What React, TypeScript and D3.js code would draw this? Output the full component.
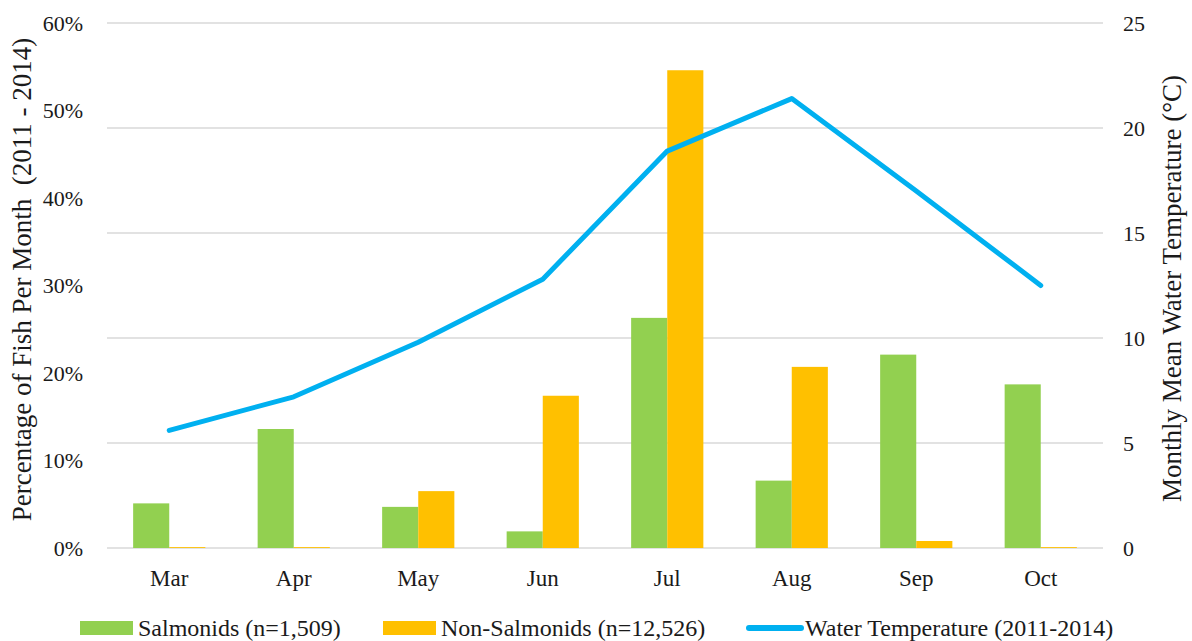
import { useEffect, useRef } from "react";
import * as d3 from "d3";

const months = ["Mar", "Apr", "May", "Jun", "Jul", "Aug", "Sep", "Oct"];
const salmonids = [5.1, 13.6, 4.7, 1.9, 26.3, 7.7, 22.1, 18.7];
const nonSalmonids = [0.1, 0.1, 6.5, 17.4, 54.6, 20.7, 0.8, 0.1];
const waterTemp = [5.6, 7.2, 9.8, 12.8, 18.9, 21.4, 17.0, 12.5];
const leftTicks = [0, 10, 20, 30, 40, 50, 60];
const rightTicks = [0, 5, 10, 15, 20, 25];

const W = 1192;
const H = 641;
const MARGIN = { top: 23, right: 89, bottom: 93, left: 107 };
const GREEN = "#92D050";
const ORANGE = "#FFC000";
const BLUE = "#00B0F0";
const TEXT = "#1a1a1a";
const FONT = "Times New Roman, Liberation Serif, DejaVu Serif, serif";

export default function App() {
  const svgRef = useRef<SVGSVGElement>(null);

  useEffect(() => {
    const svg = d3.select(svgRef.current);
    svg.selectAll("*").remove();

    svg.append("rect").attr("width", W).attr("height", H).attr("fill", "#fff");

    const plotW = W - MARGIN.left - MARGIN.right;
    const plotH = H - MARGIN.top - MARGIN.bottom;
    const g = svg.append("g").attr("transform", `translate(${MARGIN.left},${MARGIN.top})`);

    const x = d3.scaleBand().domain(months).range([0, plotW]).paddingInner(0).paddingOuter(0);
    const bw = x.bandwidth() * 0.29;
    const yL = d3.scaleLinear().domain([0, 60]).range([plotH, 0]);
    const yR = d3.scaleLinear().domain([0, 25]).range([plotH, 0]);

    // Gridlines (follow secondary axis)
    rightTicks.forEach((t) => {
      g.append("line")
        .attr("x1", 0)
        .attr("x2", plotW)
        .attr("y1", yR(t))
        .attr("y2", yR(t))
        .attr("stroke", "#D9D9D9")
        .attr("stroke-width", 1.5);
    });

    // Bars
    months.forEach((m, i) => {
      const cx = (x(m) ?? 0) + x.bandwidth() / 2;
      g.append("rect")
        .attr("x", cx - bw)
        .attr("y", yL(salmonids[i]))
        .attr("width", bw)
        .attr("height", plotH - yL(salmonids[i]))
        .attr("fill", GREEN);
      g.append("rect")
        .attr("x", cx)
        .attr("y", yL(nonSalmonids[i]))
        .attr("width", bw)
        .attr("height", plotH - yL(nonSalmonids[i]))
        .attr("fill", ORANGE);
    });

    // Temperature line
    const line = d3
      .line<number>()
      .x((_, i) => (x(months[i]) ?? 0) + x.bandwidth() / 2)
      .y((d) => yR(d));
    g.append("path")
      .datum(waterTemp)
      .attr("d", line)
      .attr("fill", "none")
      .attr("stroke", BLUE)
      .attr("stroke-width", 5)
      .attr("stroke-linecap", "round")
      .attr("stroke-linejoin", "round");

    // Left tick labels
    leftTicks.forEach((t) => {
      g.append("text")
        .attr("x", -24)
        .attr("y", yL(t))
        .attr("dy", "0.35em")
        .attr("text-anchor", "end")
        .attr("font-family", FONT)
        .attr("font-size", 22)
        .attr("fill", TEXT)
        .text(`${t}%`);
    });

    // Right tick labels
    rightTicks.forEach((t) => {
      g.append("text")
        .attr("x", plotW + 20)
        .attr("y", yR(t))
        .attr("dy", "0.35em")
        .attr("text-anchor", "start")
        .attr("font-family", FONT)
        .attr("font-size", 22)
        .attr("fill", TEXT)
        .text(t);
    });

    // Category labels
    months.forEach((m) => {
      g.append("text")
        .attr("x", (x(m) ?? 0) + x.bandwidth() / 2)
        .attr("y", plotH + 30)
        .attr("dy", "0.35em")
        .attr("text-anchor", "middle")
        .attr("font-family", FONT)
        .attr("font-size", 23)
        .attr("fill", TEXT)
        .text(m);
    });

    // Axis titles
    svg.append("text")
      .attr("transform", `translate(22,${MARGIN.top + plotH / 2 - 6}) rotate(-90)`)
      .attr("dy", "0.35em")
      .attr("text-anchor", "middle")
      .attr("font-family", FONT)
      .attr("font-size", 27)
      .attr("fill", TEXT)
      .attr("xml:space", "preserve")
      .text("Percentage of Fish Per Month  (2011 - 2014)");

    svg.append("text")
      .attr("transform", `translate(1172,${MARGIN.top + plotH / 2 + 3}) rotate(-90)`)
      .attr("dy", "0.35em")
      .attr("text-anchor", "middle")
      .attr("font-family", FONT)
      .attr("font-size", 27)
      .attr("fill", TEXT)
      .text("Monthly Mean Water Temperature (°C)");

    // Legend
    const legendY = 628;
    const items = [
      { label: "Salmonids (n=1,509)", color: GREEN, x: 80, type: "rect" },
      { label: "Non-Salmonids (n=12,526)", color: ORANGE, x: 383, type: "rect" },
      { label: "Water Temperature (2011-2014)", color: BLUE, x: 747, type: "line" },
    ];
    items.forEach((it) => {
      if (it.type === "rect") {
        svg.append("rect")
          .attr("x", it.x)
          .attr("y", legendY - 7)
          .attr("width", 53)
          .attr("height", 14)
          .attr("fill", it.color);
      } else {
        svg.append("line")
          .attr("x1", it.x + 2)
          .attr("x2", it.x + 54)
          .attr("y1", legendY)
          .attr("y2", legendY)
          .attr("stroke", it.color)
          .attr("stroke-width", 6)
          .attr("stroke-linecap", "round");
      }
      svg.append("text")
        .attr("x", it.x + 58)
        .attr("y", legendY)
        .attr("dy", "0.35em")
        .attr("font-family", FONT)
        .attr("font-size", 24)
        .attr("fill", TEXT)
        .text(it.label);
    });
  }, []);

  return (
    <svg
      ref={svgRef}
      width={W}
      height={H}
      style={{ position: "absolute", left: 0, top: 0, display: "block" }}
    />
  );
}
